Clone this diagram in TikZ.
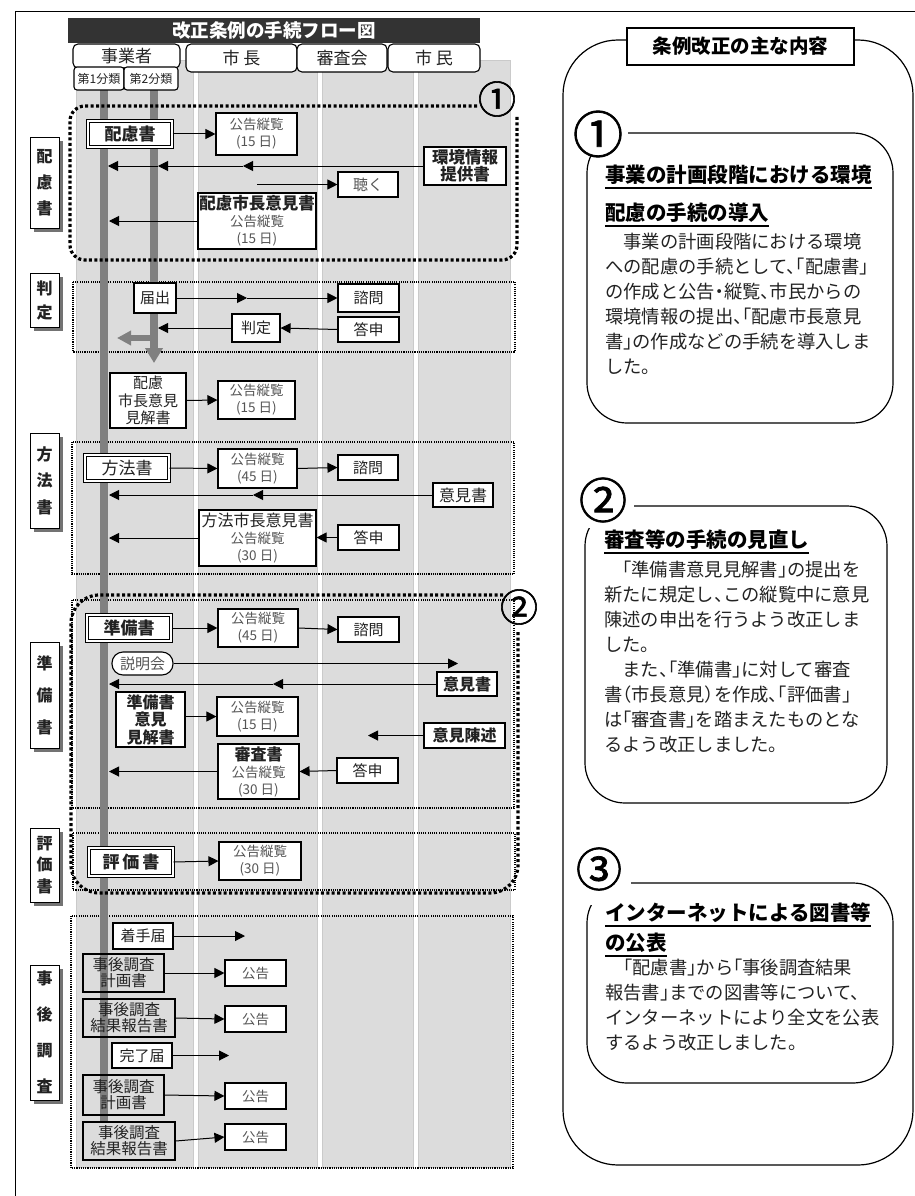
\documentclass[tikz,border=0pt]{standalone}
\usepackage{fontspec}
\setmainfont{Noto Sans CJK JP}
\newfontfamily\bodyf{Noto Sans CJK JP}[RawFeature=+halt]
\newfontfamily\circf{Noto Sans CJK JP}[FakeBold=1.6]
\usetikzlibrary{arrows.meta,shadows}
\definecolor{lanegray}{HTML}{DCDCDC}
\definecolor{lanebord}{HTML}{CACACA}
\definecolor{bargray}{HTML}{808080}
\definecolor{txtg}{HTML}{555555}
\definecolor{txtd}{HTML}{222222}
\definecolor{titlebg}{HTML}{333333}
\newcommand\fz[2]{\fontsize{#1}{#2}\selectfont}
\newcommand\bx[7]{\node[#6, minimum width={(#4)-(#2)}, minimum height={(#5)-(#3)}] (#1) at ({((#2)+(#4))/2},{((#3)+(#5))/2}) {#7};}
\tikzset{
  box/.style={draw=black, fill=white, line width=1.1pt, inner sep=1pt, align=center, text=txtd, font=\fz{15}{17.5}},
  boxnf/.style={box, fill=none, font=\fz{15.5}{16}},
  kbox/.style={box, text=txtg, font=\fz{13.5}{17}},
  dbox/.style={draw=black, fill=white, double, double distance=2pt, line width=1pt, inner sep=1pt, align=center, text=txtd},
  lab/.style={draw=black, fill=white, line width=0.9pt, inner sep=0pt, align=center, text=txtd,
     drop shadow={shadow xshift=3.5pt, shadow yshift=-3.5pt, fill=black!55, opacity=1}},
  hdr/.style={draw=black, fill=white, rounded corners=5pt, line width=1.1pt, inner sep=0pt, align=center, text=txtd, font=\fz{17}{19}},
  arr/.style={-{Triangle[length=10pt,width=10pt]}, line width=1pt, draw=black},
  bar/.style={draw=bargray, line width=8pt},
  thickdot/.style={line width=3.2pt, dash pattern=on 3pt off 2.4pt},
  thindot/.style={line width=1.1pt, dash pattern=on 1.1pt off 1.1pt},
  lane/.style={fill=lanegray, draw=lanebord, line width=0.8pt},
  circnum/.style={inner sep=0pt, font=\circf\fz{38}{38}, text=black},
  head/.style={anchor=west, inner sep=0pt, font=\bodyf\bfseries\fz{20.5}{21}, text=black},
  body/.style={anchor=west, inner sep=0pt, font=\bodyf\fz{18.3}{18.3}, text=txtd},
  ul/.style={line width=1.8pt},
}
\begin{document}
\begin{tikzpicture}[x=1pt,y=-1pt]
\useasboundingbox (0,0) rectangle (915,1196);
% outer frame
\draw[line width=1pt] (15,1196) -- (15,12) -- (915,12);
% lanes
\path[lane] (76,60) rectangle (193,1167);
\path[lane] (198,60) rectangle (317,1167);
\path[lane] (322,60) rectangle (413,1167);
\path[lane] (418,60) rectangle (510,1167);
% section boxes
\draw[thindot] (73,282) rectangle (515,352);
\draw[thindot] (72,442) rectangle (514,574);
\draw[thindot] (72,600) rectangle (514,808);
\draw[thindot] (73,833) rectangle (515,890);
\draw[thindot] (71,916) rectangle (513,1168);
% gray bars
\draw[bar] (104,88) -- (104,1122);
\draw[bar, -{Triangle[length=15pt,width=17pt]}] (154,88) -- (154,363);
\draw[bar, line width=6.5pt, -{Triangle[length=14pt,width=14pt]}] (154,338) -- (117,338);

% ---- 配慮書 section
\bx{hairyo}{88}{121}{172}{147}{dbox,font=\bfseries\fz{17}{19}}{配慮書}
\bx{k1}{216}{113}{297}{155}{kbox}{公告縦覧\\(15 日)}
\bx{env}{424}{147}{506}{185}{box,font=\bfseries\fz{16.5}{17.5}}{環境情報\\提供書}
\bx{kiku}{338}{172}{398}{197}{box,text=txtg}{聴く}
\bx{hiken}{198}{193}{316}{249}{box,font=\fz{13.5}{17}}{{\bfseries\color{txtd}\fz{16.5}{18}配慮市長意見書}\\{\color{txtg}公告縦覧}\\{\color{txtg}(15 日)}}
\coordinate (m1) at (243,166);
\coordinate (b2a) at (158,166);
\coordinate (b1a) at (108,166);
\coordinate (kst) at (257,184.5);
\coordinate (b1b) at (109,221);
\draw[arr] (hairyo.east) -- (k1.west);
\draw[arr] (env.west) -- (m1);
\draw[arr] (m1) -- (b2a);
\draw[arr] (b2a) -- (b1a);
\draw[arr] (kst) -- (kiku.west);
\draw[arr] (hiken.west |- b1b) -- (b1b);

% ---- 判定 section
\bx{todoke}{134}{283}{176}{313}{box}{届出}
\bx{shimon1}{338}{284}{399}{312}{box}{諮問}
\bx{toshin1}{338}{317}{399}{342}{box}{答申}
\bx{hantei}{232}{314}{280}{342}{box}{判定}
\coordinate (m2) at (247,298);
\coordinate (b2c) at (158,328);
\draw[arr] (todoke.east) -- (m2);
\draw[arr] (m2) -- (shimon1.west);
\draw[arr] (toshin1.west) -- (hantei.east);
\draw[arr] (hantei.west) -- (b2c);

\bx{kenkai1}{110}{373}{186}{428}{box}{配慮\\市長意見\\見解書}
\bx{k2}{218}{381}{295}{419}{kbox}{公告縦覧\\(15 日)}
\draw[arr] (kenkai1.east) -- (k2.west);

% ---- 方法書 section
\bx{hoho}{85}{455}{169}{481}{dbox,font=\fz{17}{19}}{方法書}
\bx{k3}{218}{449}{297}{488}{kbox}{公告縦覧\\(45 日)}
\bx{shimon2}{338}{455}{398}{480}{box}{諮問}
\bx{iken1}{433}{483}{493}{507}{box,font=\fz{16}{18}}{意見書}
\bx{hhiken}{199}{510}{316}{566}{box,font=\fz{13.5}{17}}{{\color{txtd}\fz{16}{18}方法市長意見書}\\{\color{txtg}公告縦覧}\\{\color{txtg}(30 日)}}
\bx{toshin2}{338}{525}{399}{550}{box}{答申}
\coordinate (m3) at (253,495);
\coordinate (b1c) at (109,495);
\coordinate (b1d) at (109,538);
\draw[arr] (hoho.east) -- (k3.west);
\draw[arr] (k3.east) -- (shimon2.west);
\draw[arr] (iken1.west) -- (m3);
\draw[arr] (m3) -- (b1c);
\draw[arr] (toshin2.west) -- (hhiken.east |- toshin2.west);
\draw[arr] (hhiken.west) -- (b1d);

% ---- 準備書 section
\bx{junbi}{87}{615}{171}{641}{dbox,font=\bfseries\fz{17}{19}}{準備書}
\bx{k4}{218}{609}{298}{647}{kbox}{公告縦覧\\(45 日)}
\bx{shimon3}{338}{617}{399}{642}{box}{諮問}
\draw[arr] (junbi.east) -- (k4.west);
\draw[arr] (k4.east) -- (shimon3.west);
\bx{setsu}{112}{652}{173}{675}{box,rounded corners=11pt,text=txtg}{説明会}
\coordinate (setend) at (458,663.5);
\draw[arr] (setsu.east) -- (setend);
\bx{iken2}{437}{672}{497}{696}{box,font=\bfseries\fz{16}{18}}{意見書}
\coordinate (m4) at (273,684);
\coordinate (b1e) at (109,684);
\draw[arr] (iken2.west) -- (m4);
\draw[arr] (m4) -- (b1e);
\bx{jkenkai}{116}{692}{185}{747}{box,font=\bfseries\fz{16}{17.5}}{準備書\\意見\\見解書}
\bx{k5}{217}{697}{298}{736}{kbox}{公告縦覧\\(15 日)}
\draw[arr] (jkenkai.east |- k5.west) -- (k5.west);
\bx{chinjutsu}{424}{723}{505}{748}{box,font=\bfseries\fz{16}{18}}{意見陳述}
\coordinate (chend) at (368,735.5);
\draw[arr] (chinjutsu.west) -- (chend);
\bx{shinsa}{218}{744}{299}{799}{box,font=\fz{13.5}{17}}{{\bfseries\color{txtd}\fz{16}{18}審査書}\\{\color{txtg}公告縦覧}\\{\color{txtg}(30 日)}}
\bx{toshin3}{337}{758}{398}{783}{box}{答申}
\coordinate (b1f) at (109,771.5);
\draw[arr] (toshin3.west) -- (shinsa.east);
\draw[arr] (shinsa.west) -- (b1f);

% ---- 評価書 section
\bx{hyoka}{89}{848}{173}{876}{dbox,font=\bfseries\fz{17}{19}}{評\,価\,書}
\bx{k6}{219}{842}{301}{880}{kbox}{公告縦覧\\(30 日)}
\draw[arr] (hyoka.east) -- (k6.west);

% ---- 事後調査 section
\bx{chakushu}{113}{923}{173}{949}{box}{着手届}
\coordinate (c1) at (245,936);
\draw[arr] (chakushu.east) -- (c1);
\bx{jg1}{83}{954}{164}{992}{boxnf}{事後調査\\計画書}
\bx{ko1}{225}{960}{286}{986}{kbox}{公告}
\draw[arr] (jg1.east) -- (ko1.west);
\bx{jr1}{83}{999}{175}{1037}{boxnf}{事後調査\\結果報告書}
\bx{ko2}{225}{1006}{286}{1032}{kbox}{公告}
\draw[arr] (jr1.east) -- (ko2.west);
\bx{kanryo}{112}{1043}{172}{1068}{box}{完了届}
\coordinate (c2) at (229,1055.5);
\draw[arr] (kanryo.east) -- (c2);
\bx{jg2}{83}{1075}{164}{1115}{boxnf}{事後調査\\計画書}
\bx{ko3}{225}{1083}{286}{1109}{kbox}{公告}
\draw[arr] (jg2.east) -- (ko3.west);
\bx{jr2}{83}{1122}{175}{1160}{boxnf}{事後調査\\結果報告書}
\bx{ko4}{225}{1124}{286}{1150}{kbox}{公告}
\draw[arr] (jr2.east) -- (ko4.west);

% thick dotted groups
\draw[thickdot, rounded corners=15pt] (477,106) -- (70,106) -- (70,260) -- (517,260) -- (517,116);
\draw[thickdot, rounded corners=28pt] (503,595) -- (71,595) -- (71,893) -- (518,893) -- (518,630);
\node[circnum] (n1) at (497,99) {①};
\node[circnum] (n2) at (519,607) {②};

% left labels
\bx{L1}{30}{137}{59}{228}{lab,font=\bfseries\fz{16}{26}}{配\\慮\\書}
\bx{L2}{30}{273}{59}{327}{lab,font=\bfseries\fz{16}{24}}{判\\定}
\bx{L3}{30}{433}{59}{528}{lab,font=\bfseries\fz{16}{26.5}}{方\\法\\書}
\bx{L4}{30}{642}{59}{748}{lab,font=\bfseries\fz{16}{32}}{準\\備\\書}
\bx{L5}{30}{828}{59}{902}{lab,font=\bfseries\fz{16}{21.5}}{評\\価\\書}
\bx{L6}{30}{965}{59}{1100}{lab,font=\bfseries\fz{16}{36}}{事\\後\\調\\査}

% title & headers
\bx{title}{68}{18}{480}{43}{fill=titlebg, inner sep=0pt, text=white, font=\bfseries\fz{18.5}{19}}{改正条例の手続フロー図}
\bx{hj}{73}{44}{180}{68}{hdr}{事業者}
\bx{hc1}{74}{67}{124}{90}{hdr,rounded corners=3pt,font=\fz{12}{13}}{第1分類}
\bx{hc2}{124}{67}{178}{90}{hdr,rounded corners=3pt,font=\fz{12}{13}}{第2分類}
\bx{hm}{186}{44}{297}{72}{hdr}{市\ 長}
\bx{hs}{297}{44}{387}{72}{hdr}{審査会}
\bx{hp}{388}{44}{480}{72}{hdr}{市\ 民}

% ---- right panel
\draw[line width=1.2pt, rounded corners=55pt] (563,40) rectangle (913,1165);
\bx{rt}{627}{28}{854}{65}{draw=black, fill=white, line width=1.1pt, inner sep=0pt, font=\bfseries\fz{19.5}{20}}{条例改正の主な内容}

% box 1
\draw[line width=1.2pt, rounded corners=40pt] (587,133) rectangle (893,423);
\fill[white] (574,108) rectangle (627.5,155);
\node[circnum, font=\circf\fz{50}{50}] (r1) at (598,134) {①};
\node[head] (h1a) at (605,175) {事業の計画段階における環境};
\node[head] (h1b) at (605,213) {配慮の手続の導入};
\draw[ul] ([yshift=-3pt]h1a.south west) -- ([yshift=-3pt]h1a.south east);
\draw[ul] ([yshift=-3pt]h1b.south west) -- ([yshift=-3pt]h1b.south east);
\node[body] (b11) at (605,242) {　事業の計画段階における環境};
\node[body] (b12) at (605,267) {への配慮の手続として、「配慮書」};
\node[body] (b13) at (605,292) {の作成と公告・縦覧、市民からの};
\node[body] (b14) at (605,317) {環境情報の提出、「配慮市長意見};
\node[body] (b15) at (605,342) {書」の作成などの手続を導入しま};
\node[body] (b16) at (605,367) {した。};

% box 2
\draw[line width=1.2pt, rounded corners=40pt] (585,506) rectangle (887,803);
\fill[white] (572,476) rectangle (633.5,528);
\node[circnum, font=\circf\fz{48}{48}] (r2) at (603,500) {②};
\node[head] (h2a) at (604,540) {審査等の手続の見直し};
\draw[ul] ([yshift=-3pt]h2a.south west) -- ([yshift=-3pt]h2a.south east);
\node[body] (b21) at (604,570) {　「準備書意見見解書」の提出を};
\node[body] (b22) at (604,595) {新たに規定し、この縦覧中に意見};
\node[body] (b23) at (604,620) {陳述の申出を行うよう改正しま};
\node[body] (b24) at (604,645) {した。};
\node[body] (b25) at (604,670) {　また、「準備書」に対して審査};
\node[body] (b26) at (604,695) {書（市長意見）を作成、「評価書」};
\node[body] (b27) at (604,720) {は「審査書」を踏まえたものとな};
\node[body] (b28) at (604,745) {るよう改正しました。};

% box 3
\draw[line width=1.2pt, rounded corners=40pt] (587,883) rectangle (893,1083);
\fill[white] (572,848) rectangle (630.5,905);
\node[circnum, font=\circf\fz{46}{46}] (r3) at (599,869) {③};
\node[head] (h3a) at (605,913) {インターネットによる図書等};
\node[head] (h3b) at (605,943) {の公表};
\draw[ul] ([yshift=-3pt]h3a.south west) -- ([yshift=-3pt]h3a.south east);
\draw[ul] ([yshift=-3pt]h3b.south west) -- ([yshift=-3pt]h3b.south east);
\node[body] (b31) at (605,968) {　「配慮書」から「事後調査結果};
\node[body] (b32) at (605,993) {報告書」までの図書等について、};
\node[body] (b33) at (605,1018) {インターネットにより全文を公表};
\node[body] (b34) at (605,1043) {するよう改正しました。};
\end{tikzpicture}
\end{document}
